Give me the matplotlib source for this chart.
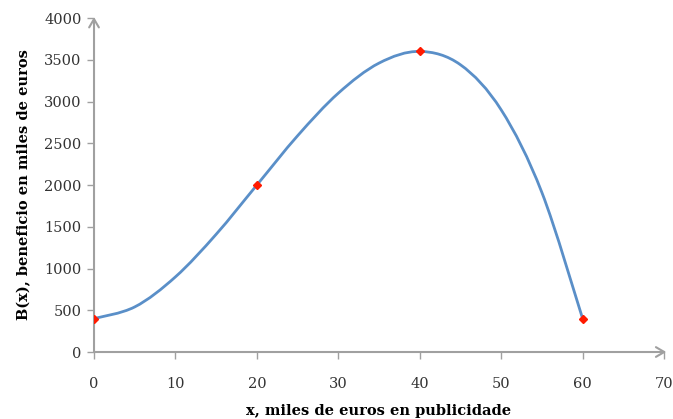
import numpy as np
import matplotlib
matplotlib.use("Agg")
import matplotlib.pyplot as plt
from matplotlib.path import Path
from matplotlib.patches import PathPatch

# curve, every 5 units of x
x_curve = [0, 5, 10, 15, 20, 25, 30, 35, 40, 45, 50, 55, 60]
b_curve = [400, 540, 900, 1410, 2000, 2590, 3100, 3460, 3600, 3440, 2900, 1910, 400]

# highlighted points (red diamonds)
x_pts = [0, 20, 40, 60]
b_pts = [400, 2000, 3600, 400]

x_ticks = [0, 10, 20, 30, 40, 50, 60, 70]
y_ticks = [0, 500, 1000, 1500, 2000, 2500, 3000, 3500, 4000]

plt.rcParams['font.family'] = ['DejaVu Serif']

fig = plt.figure(figsize=(6.73, 4.19), dpi=100)
ax = fig.add_axes([0.1397, 0.1599, 0.8470, 0.7971])

# smooth line through the curve points (catmull-rom style bezier)
px = np.array(x_curve, dtype=float)
py = np.array(b_curve, dtype=float)
verts = [(px[0], py[0])]
codes = [Path.MOVETO]
n = len(px)
for i in range(n - 1):
    i0 = max(i - 1, 0)
    i3 = min(i + 2, n - 1)
    c1 = (px[i] + (px[i + 1] - px[i0]) / 6, py[i] + (py[i + 1] - py[i0]) / 6)
    c2 = (px[i + 1] - (px[i3] - px[i]) / 6, py[i + 1] - (py[i3] - py[i]) / 6)
    verts += [c1, c2, (px[i + 1], py[i + 1])]
    codes += [Path.CURVE4] * 3
ax.add_patch(PathPatch(Path(verts, codes), facecolor='none',
                       edgecolor='#5a8fc8', lw=2.0, zorder=3))

ax.plot(x_pts, b_pts, linestyle='none', marker='D', markersize=4.5,
        color='#ff1a00', zorder=4)

ax.set_xlim(0, 70)
ax.set_ylim(0, 4000)
ax.set_xticks(x_ticks)
ax.set_yticks(y_ticks)
for s in ax.spines.values():
    s.set_visible(False)

# axes with arrows
grey = '#a0a0a0'
ax.annotate('', xy=(1.004, 0), xytext=(0, 0), xycoords='axes fraction',
            arrowprops=dict(arrowstyle='->,head_length=0.6,head_width=0.35',
                            color=grey, lw=1.5, shrinkA=0, shrinkB=0),
            annotation_clip=False)
ax.annotate('', xy=(0, 1.003), xytext=(0, 0), xycoords='axes fraction',
            arrowprops=dict(arrowstyle='->,head_length=0.6,head_width=0.35',
                            color=grey, lw=1.5, shrinkA=0, shrinkB=0),
            annotation_clip=False)

ax.tick_params(axis='both', direction='out', length=5, width=1, color=grey,
               labelsize=10.5, labelcolor='#333333')
ax.tick_params(axis='x', pad=13)
ax.tick_params(axis='y', pad=4)

ax.set_xlabel('x, miles de euros en publicidade', fontsize=10.5,
              fontweight='bold', labelpad=9)
ax.set_ylabel('B(x), beneficio en miles de euros', fontsize=10.5,
              fontweight='bold', labelpad=9)

fig.savefig('out.png', dpi=100)
